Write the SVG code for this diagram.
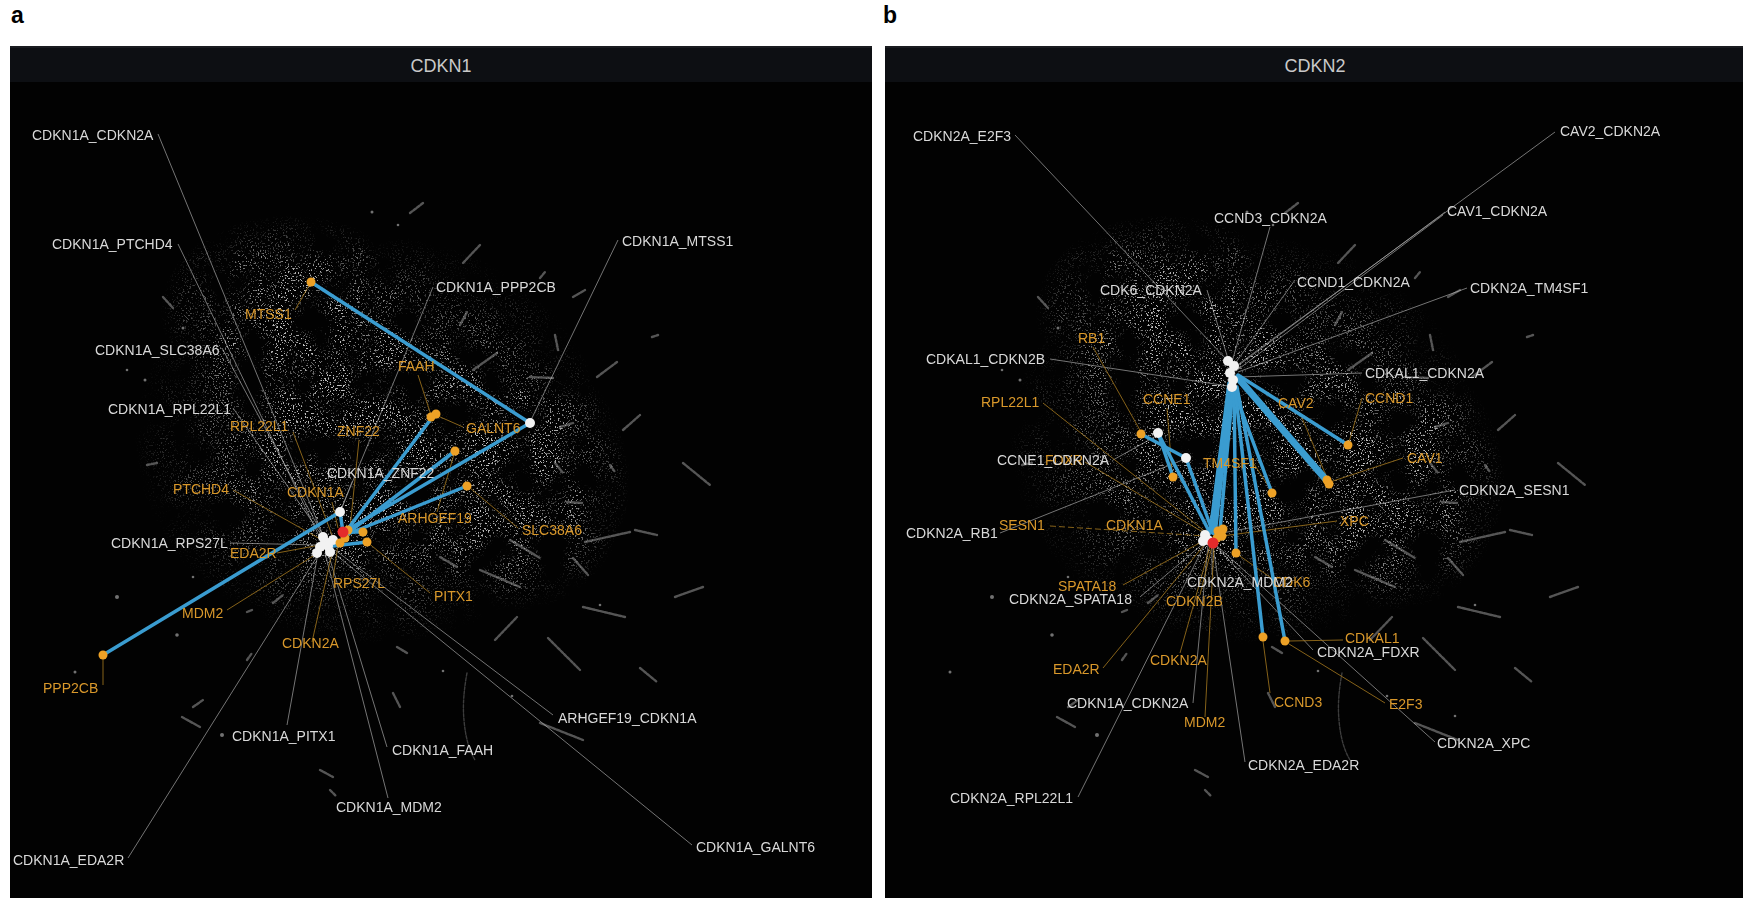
<svg xmlns="http://www.w3.org/2000/svg" xmlns:xlink="http://www.w3.org/1999/xlink" width="1743" height="898" viewBox="0 0 1743 898">
<style>
text{font-family:"Liberation Sans",Arial,sans-serif;font-size:14px}
.wl{fill:#d9d9d9}
.ol{fill:#d9982b}
.hd{fill:#c9c9c9;font-size:18px}
.pl{fill:#000;font-size:23px;font-weight:bold}
.e{stroke:#3a9cd0;stroke-linecap:round;fill:none;stroke-width:3.5}
.lw{stroke:#c4c4c4;stroke-width:0.7;opacity:0.85}
.lo{stroke:#a87b20;stroke-width:0.8}
.nw{fill:#f2f2f2}
.no{fill:#eda126}
.nr{fill:#e42b2b}
.st{stroke:#a8a8a8;stroke-width:2.4;stroke-linecap:round;opacity:0.5;fill:none;stroke-dasharray:3 1.5}
.dt{fill:#bdbdbd;opacity:0.6}
</style>
<defs>
<radialGradient id="cg" cx="0.5" cy="0.5" r="0.5">
<stop offset="0" stop-color="#fff" stop-opacity="1"/>
<stop offset="0.55" stop-color="#fff" stop-opacity="0.8"/>
<stop offset="1" stop-color="#fff" stop-opacity="0"/>
</radialGradient>
<filter id="spk" filterUnits="userSpaceOnUse" x="0" y="40" width="880" height="858">
<feTurbulence type="fractalNoise" baseFrequency="0.6" numOctaves="2" seed="7" result="n"/>
<feColorMatrix in="n" type="matrix" values="0 0 0 0 0.55  0 0 0 0 0.55  0 0 0 0 0.55  14 0 0 0 -8.4" result="d"/>
<feTurbulence type="fractalNoise" baseFrequency="0.03" numOctaves="3" seed="3" result="b"/>
<feColorMatrix in="b" type="matrix" values="0 0 0 0 0  0 0 0 0 0  0 0 0 0 0  3 0 0 0 -0.9" result="bm"/>
<feComposite in="d" in2="bm" operator="in" result="d2"/>
<feComposite in="d2" in2="SourceGraphic" operator="in"/>
</filter>
<g id="scatter">
<g filter="url(#spk)" fill="url(#cg)">
<ellipse cx="370" cy="440" rx="235" ry="205"/>
<ellipse cx="290" cy="310" rx="130" ry="95"/>
<ellipse cx="520" cy="480" rx="110" ry="130"/>
<ellipse cx="350" cy="450" rx="130" ry="110"/>
</g>
<g class="st">
<line x1="683" y1="463" x2="710" y2="485"/>
<line x1="635" y1="530" x2="657" y2="535"/>
<line x1="585" y1="542" x2="630" y2="532"/>
<line x1="567" y1="502" x2="582" y2="503"/>
<line x1="555" y1="463" x2="563" y2="473"/>
<line x1="610" y1="465" x2="615" y2="472"/>
<line x1="510" y1="540" x2="540" y2="558"/>
<line x1="573" y1="558" x2="588" y2="575"/>
<line x1="675" y1="597" x2="703" y2="587"/>
<line x1="583" y1="607" x2="625" y2="617"/>
<line x1="495" y1="640" x2="517" y2="617"/>
<line x1="548" y1="638" x2="580" y2="670"/>
<line x1="640" y1="668" x2="657" y2="682"/>
<path d="M467 673 Q462 700 464 720 Q466 745 475 760" stroke-width="1.4" opacity="0.7"/>
<line x1="540" y1="723" x2="583" y2="740"/>
<line x1="480" y1="570" x2="520" y2="587"/>
<line x1="440" y1="557" x2="457" y2="567"/>
<line x1="463" y1="263" x2="480" y2="245"/>
<line x1="460" y1="325" x2="467" y2="312"/>
<line x1="573" y1="297" x2="585" y2="290"/>
<line x1="555" y1="335" x2="558" y2="350"/>
<line x1="597" y1="377" x2="617" y2="362"/>
<line x1="652" y1="337" x2="658" y2="335"/>
<line x1="473" y1="370" x2="497" y2="353"/>
<line x1="530" y1="377" x2="553" y2="378"/>
<line x1="623" y1="430" x2="640" y2="415"/>
<line x1="560" y1="427" x2="573" y2="423"/>
<line x1="410" y1="213" x2="423" y2="203"/>
<line x1="163" y1="297" x2="173" y2="308"/>
<line x1="147" y1="465" x2="157" y2="463"/>
<line x1="247" y1="612" x2="252" y2="610"/>
<line x1="273" y1="603" x2="283" y2="595"/>
<line x1="247" y1="660" x2="252" y2="653"/>
<line x1="182" y1="717" x2="200" y2="727"/>
<line x1="193" y1="707" x2="203" y2="700"/>
<line x1="393" y1="693" x2="400" y2="707"/>
<line x1="320" y1="770" x2="333" y2="777"/>
<line x1="397" y1="647" x2="407" y2="653"/>
<line x1="540" y1="278" x2="545" y2="272"/>
<line x1="330" y1="790" x2="336" y2="796"/>
</g>
<g class="dt">
<circle cx="372" cy="212" r="1.5"/><circle cx="398" cy="225" r="1.3"/><circle cx="183" cy="328" r="1.5"/>
<circle cx="127" cy="370" r="1.3"/><circle cx="145" cy="380" r="1.5"/><circle cx="117" cy="597" r="2"/>
<circle cx="193" cy="577" r="1.3"/><circle cx="177" cy="635" r="1.8"/><circle cx="222" cy="735" r="2"/>
<circle cx="75" cy="672" r="1.5"/><circle cx="443" cy="671" r="1.3"/><circle cx="512" cy="696" r="1.3"/>
<circle cx="600" cy="605" r="1.3"/><circle cx="580" cy="716" r="1.3"/>
</g>
</g>
</defs>

<rect x="0" y="0" width="1743" height="898" fill="#fff"/>
<text class="pl" x="11" y="23">a</text>
<text class="pl" x="883" y="23">b</text>

<g id="panel-a">
<rect x="10" y="46" width="862" height="852" fill="#020202"/>
<rect x="10" y="46" width="862" height="36" fill="#0d0f13"/>
<line x1="10" y1="47" x2="872" y2="47" stroke="#1a1c20" stroke-width="2"/>
<text class="hd" x="441" y="72" text-anchor="middle">CDKN1</text>
</g>
<g id="panel-b">
<rect x="885" y="46" width="858" height="852" fill="#020202"/>
<rect x="885" y="46" width="858" height="36" fill="#0d0f13"/>
<line x1="885" y1="47" x2="1743" y2="47" stroke="#1a1c20" stroke-width="2"/>
<text class="hd" x="1315" y="72" text-anchor="middle">CDKN2</text>
</g>

<use xlink:href="#scatter" href="#scatter"/>
<use xlink:href="#scatter" href="#scatter" transform="translate(875,0)"/>

<g id="connectors">
<g class="lw">
<line x1="158" y1="134" x2="325" y2="540"/>
<line x1="178" y1="244" x2="322" y2="542"/>
<line x1="222" y1="348" x2="328" y2="545"/>
<line x1="233" y1="408" x2="325" y2="540"/>
<line x1="433" y1="287" x2="340" y2="512"/>
<line x1="618" y1="240" x2="531" y2="420"/>
<line x1="352" y1="482" x2="341" y2="510"/>
<line x1="230" y1="543" x2="320" y2="545"/>
<line x1="287" y1="725" x2="318" y2="553"/>
<line x1="387" y1="747" x2="328" y2="553"/>
<line x1="388" y1="798" x2="325" y2="553"/>
<line x1="553" y1="715" x2="335" y2="550"/>
<line x1="692" y1="845" x2="330" y2="550"/>
<line x1="128" y1="858" x2="318" y2="555"/>
</g>
<g class="lo">
<line x1="295" y1="310" x2="311" y2="282"/>
<line x1="418" y1="375" x2="431" y2="415"/>
<line x1="463" y1="427" x2="438" y2="416"/>
<line x1="359" y1="440" x2="350" y2="528"/>
<line x1="293" y1="432" x2="332" y2="535"/>
<line x1="332" y1="502" x2="338" y2="528"/>
<line x1="233" y1="490" x2="322" y2="540"/>
<line x1="455" y1="451" x2="437" y2="512"/>
<line x1="470" y1="488" x2="518" y2="528"/>
<line x1="367" y1="542" x2="430" y2="593"/>
<line x1="277" y1="553" x2="320" y2="545"/>
<line x1="333" y1="578" x2="338" y2="545"/>
<line x1="227" y1="610" x2="318" y2="553"/>
<line x1="312" y1="642" x2="332" y2="553"/>
<line x1="103" y1="685" x2="103" y2="655"/>
</g>
<g class="e">
<line x1="311" y1="282" x2="530" y2="423"/>
<line x1="530" y1="423" x2="347" y2="530"/>
<line x1="434" y1="415" x2="347" y2="530"/>
<line x1="455" y1="451" x2="349" y2="532"/>
<line x1="467" y1="486" x2="348" y2="534"/>
<line x1="103" y1="655" x2="340" y2="512"/>
<line x1="340" y1="512" x2="343" y2="532"/>
<line x1="367" y1="542" x2="333" y2="546"/>
<line x1="363" y1="532" x2="343" y2="532"/>
</g>

<g class="lw">
<line x1="1015" y1="135" x2="1228" y2="361"/>
<line x1="1270" y1="227" x2="1232" y2="362"/>
<line x1="1207" y1="290" x2="1229" y2="362"/>
<line x1="1295" y1="280" x2="1234" y2="365"/>
<line x1="1445" y1="212" x2="1235" y2="368"/>
<line x1="1443" y1="215" x2="1236" y2="371"/>
<line x1="1555" y1="132" x2="1236" y2="366"/>
<line x1="1467" y1="288" x2="1238" y2="372"/>
<line x1="1050" y1="359" x2="1228" y2="386"/>
<line x1="1362" y1="373" x2="1238" y2="377"/>
<line x1="1113" y1="460" x2="1158" y2="435"/>
<line x1="1000" y1="533" x2="1185" y2="459"/>
<line x1="1455" y1="490" x2="1222" y2="533"/>
<line x1="1140" y1="597" x2="1205" y2="542"/>
<line x1="1212" y1="575" x2="1212" y2="546"/>
<line x1="1193" y1="703" x2="1208" y2="545"/>
<line x1="1078" y1="797" x2="1205" y2="544"/>
<line x1="1245" y1="762" x2="1213" y2="546"/>
<line x1="1313" y1="650" x2="1215" y2="545"/>
<line x1="1435" y1="742" x2="1217" y2="546"/>
</g>
<g class="lo">
<line x1="1093" y1="347" x2="1141" y2="432"/>
<line x1="1167" y1="408" x2="1172" y2="472"/>
<line x1="1043" y1="403" x2="1207" y2="533"/>
<line x1="1300" y1="413" x2="1327" y2="478"/>
<line x1="1362" y1="398" x2="1349" y2="442"/>
<line x1="1250" y1="458" x2="1271" y2="490"/>
<line x1="1403" y1="458" x2="1330" y2="482"/>
<line x1="1337" y1="521" x2="1222" y2="536"/>
<line x1="1050" y1="526" x2="1205" y2="536" stroke-dasharray="6 3"/>
<line x1="1085" y1="462" x2="1206" y2="534"/>
<line x1="1123" y1="585" x2="1205" y2="540"/>
<line x1="1200" y1="595" x2="1212" y2="546"/>
<line x1="1277" y1="582" x2="1237" y2="554"/>
<line x1="1180" y1="653" x2="1210" y2="546"/>
<line x1="1103" y1="668" x2="1205" y2="544"/>
<line x1="1205" y1="717" x2="1214" y2="546"/>
<line x1="1270" y1="693" x2="1263" y2="641"/>
<line x1="1343" y1="640" x2="1289" y2="641"/>
<line x1="1385" y1="703" x2="1289" y2="644"/>
</g>
<g class="e">
<line x1="1231" y1="385" x2="1214" y2="532" stroke-width="6"/>
<line x1="1233" y1="387" x2="1220" y2="530"/>
<line x1="1229" y1="383" x2="1210" y2="533"/>
<line x1="1232" y1="385" x2="1272" y2="493"/>
<line x1="1234" y1="388" x2="1236" y2="553"/>
<line x1="1235" y1="388" x2="1263" y2="637"/>
<line x1="1237" y1="387" x2="1285" y2="641"/>
<line x1="1238" y1="378" x2="1328" y2="482" stroke-width="7"/>
<line x1="1238" y1="375" x2="1348" y2="445"/>
<line x1="1141" y1="434" x2="1186" y2="458"/>
<line x1="1158" y1="433" x2="1173" y2="477"/>
<line x1="1158" y1="433" x2="1210" y2="533"/>
<line x1="1186" y1="458" x2="1213" y2="533"/>
</g>
</g>

<g id="node-CDKN1A-cluster">
<circle class="nw" cx="320" cy="547" r="5"/><circle class="nw" cx="317" cy="553" r="5"/>
<circle class="nw" cx="323" cy="537" r="5"/><circle class="nw" cx="330" cy="552" r="5"/>
<circle class="nw" cx="325" cy="542" r="5"/><circle class="nw" cx="333" cy="540" r="5"/>
<circle class="nw" cx="328" cy="546" r="5"/><circle class="nw" cx="340" cy="512" r="5"/>
<circle class="no" cx="340" cy="543" r="4.5"/><circle class="no" cx="345" cy="538" r="4.5"/>
<circle class="no" cx="348" cy="530" r="4.5"/><circle class="no" cx="363" cy="532" r="4.5"/>
<circle class="no" cx="367" cy="542" r="4.5"/>
<circle class="nr" cx="343" cy="532" r="5.5"/>
</g>
<g id="node-CDKN1A_MTSS1"><circle class="nw" cx="530" cy="423" r="5"/></g>
<g id="node-MTSS1"><circle class="no" cx="311" cy="282" r="4.5"/><text class="ol" x="245" y="319">MTSS1</text></g>
<g id="node-FAAH"><circle class="no" cx="431" cy="417" r="4.5"/><circle class="no" cx="436" cy="414" r="4.5"/><text class="ol" x="398" y="371">FAAH</text></g>
<g id="node-ZNF22"><circle class="no" cx="455" cy="451" r="4.5"/><text class="ol" x="337" y="436">ZNF22</text></g>
<g id="node-SLC38A6"><circle class="no" cx="467" cy="486" r="4.5"/><text class="ol" x="522" y="535">SLC38A6</text></g>
<g id="node-PPP2CB"><circle class="no" cx="103" cy="655" r="4.5"/><text class="ol" x="43" y="693">PPP2CB</text></g>
<g id="lbl-left-orange">
<text class="ol" x="230" y="431">RPL22L1</text>
<text class="ol" x="466" y="433">GALNT6</text>
<text class="ol" x="173" y="494">PTCHD4</text>
<text class="ol" x="287" y="497">CDKN1A</text>
<text class="ol" x="398" y="523">ARHGEF19</text>
<text class="ol" x="230" y="558">EDA2R</text>
<text class="ol" x="333" y="588">RPS27L</text>
<text class="ol" x="434" y="601">PITX1</text>
<text class="ol" x="182" y="618">MDM2</text>
<text class="ol" x="282" y="648">CDKN2A</text>
</g>
<g id="lbl-left-white">
<text class="wl" x="32" y="140">CDKN1A_CDKN2A</text>
<text class="wl" x="52" y="249">CDKN1A_PTCHD4</text>
<text class="wl" x="622" y="246">CDKN1A_MTSS1</text>
<text class="wl" x="436" y="292">CDKN1A_PPP2CB</text>
<text class="wl" x="95" y="355">CDKN1A_SLC38A6</text>
<text class="wl" x="108" y="414">CDKN1A_RPL22L1</text>
<text class="wl" x="327" y="478">CDKN1A_ZNF22</text>
<text class="wl" x="111" y="548">CDKN1A_RPS27L</text>
<text class="wl" x="558" y="723">ARHGEF19_CDKN1A</text>
<text class="wl" x="232" y="741">CDKN1A_PITX1</text>
<text class="wl" x="392" y="755">CDKN1A_FAAH</text>
<text class="wl" x="336" y="812">CDKN1A_MDM2</text>
<text class="wl" x="696" y="852">CDKN1A_GALNT6</text>
<text class="wl" x="13" y="865">CDKN1A_EDA2R</text>
</g>

<g id="node-CDKN2A-hub">
<circle class="nw" cx="1228" cy="361" r="5"/><circle class="nw" cx="1234" cy="366" r="5"/>
<circle class="nw" cx="1230" cy="373" r="5"/><circle class="nw" cx="1233" cy="380" r="5"/>
<circle class="nw" cx="1232" cy="387" r="5"/>
</g>
<g id="node-CDKN2A-cluster">
<circle class="nw" cx="1205" cy="535" r="5"/><circle class="nw" cx="1203" cy="541" r="5"/>
<circle class="nw" cx="1208" cy="540" r="5"/>
<circle class="no" cx="1218" cy="531" r="4.5"/><circle class="no" cx="1223" cy="529" r="4.5"/>
<circle class="no" cx="1217" cy="538" r="4.5"/><circle class="no" cx="1222" cy="536" r="4.5"/>
<circle class="nr" cx="1213" cy="543" r="5.5"/>
</g>
<g id="node-CCNE1_CDKN2A"><circle class="nw" cx="1158" cy="433" r="5"/></g>
<g id="node-CDKN2A_RB1"><circle class="nw" cx="1186" cy="458" r="5"/></g>
<g id="node-RB1"><circle class="no" cx="1141" cy="434" r="4.5"/><text class="ol" x="1078" y="343">RB1</text></g>
<g id="node-CCNE1"><circle class="no" cx="1173" cy="477" r="4.5"/><text class="ol" x="1143" y="404">CCNE1</text></g>
<g id="node-TM4SF1"><circle class="no" cx="1272" cy="493" r="4.5"/><text class="ol" x="1203" y="468">TM4SF1</text></g>
<g id="node-CCND1"><circle class="no" cx="1348" cy="445" r="4.5"/><text class="ol" x="1365" y="403">CCND1</text></g>
<g id="node-CAV1-CAV2"><circle class="no" cx="1327" cy="480" r="4.5"/><circle class="no" cx="1329" cy="484" r="4.5"/>
<text class="ol" x="1278" y="408">CAV2</text><text class="ol" x="1407" y="463">CAV1</text></g>
<g id="node-CDK6"><circle class="no" cx="1236" cy="553" r="4.5"/><text class="ol" x="1273" y="587">CDK6</text></g>
<g id="node-CCND3"><circle class="no" cx="1263" cy="637" r="4.5"/><text class="ol" x="1274" y="707">CCND3</text></g>
<g id="node-CDKAL1"><circle class="no" cx="1285" cy="641" r="4.5"/><text class="ol" x="1345" y="643">CDKAL1</text></g>
<g id="lbl-right-orange">
<text class="ol" x="981" y="407">RPL22L1</text>
<text class="ol" x="1340" y="526">XPC</text>
<text class="ol" x="999" y="530">SESN1</text>
<text class="ol" x="1106" y="530">CDKN1A</text>
<text class="ol" x="1045" y="465">FDXR</text>
<text class="ol" x="1058" y="591">SPATA18</text>
<text class="ol" x="1166" y="606">CDKN2B</text>
<text class="ol" x="1150" y="665">CDKN2A</text>
<text class="ol" x="1053" y="674">EDA2R</text>
<text class="ol" x="1184" y="727">MDM2</text>
<text class="ol" x="1389" y="709">E2F3</text>
</g>
<g id="lbl-right-white">
<text class="wl" x="913" y="141">CDKN2A_E2F3</text>
<text class="wl" x="1214" y="223">CCND3_CDKN2A</text>
<text class="wl" x="1560" y="136">CAV2_CDKN2A</text>
<text class="wl" x="1447" y="216">CAV1_CDKN2A</text>
<text class="wl" x="1100" y="295">CDK6_CDKN2A</text>
<text class="wl" x="1297" y="287">CCND1_CDKN2A</text>
<text class="wl" x="1470" y="293">CDKN2A_TM4SF1</text>
<text class="wl" x="926" y="364">CDKAL1_CDKN2B</text>
<text class="wl" x="1365" y="378">CDKAL1_CDKN2A</text>
<text class="wl" x="997" y="465">CCNE1_CDKN2A</text>
<text class="wl" x="1459" y="495">CDKN2A_SESN1</text>
<text class="wl" x="906" y="538">CDKN2A_RB1</text>
<text class="wl" x="1187" y="587">CDKN2A_MDM2</text>
<text class="wl" x="1009" y="604">CDKN2A_SPATA18</text>
<text class="wl" x="1317" y="657">CDKN2A_FDXR</text>
<text class="wl" x="1067" y="708">CDKN1A_CDKN2A</text>
<text class="wl" x="1248" y="770">CDKN2A_EDA2R</text>
<text class="wl" x="1437" y="748">CDKN2A_XPC</text>
<text class="wl" x="950" y="803">CDKN2A_RPL22L1</text>
</g>
</svg>
